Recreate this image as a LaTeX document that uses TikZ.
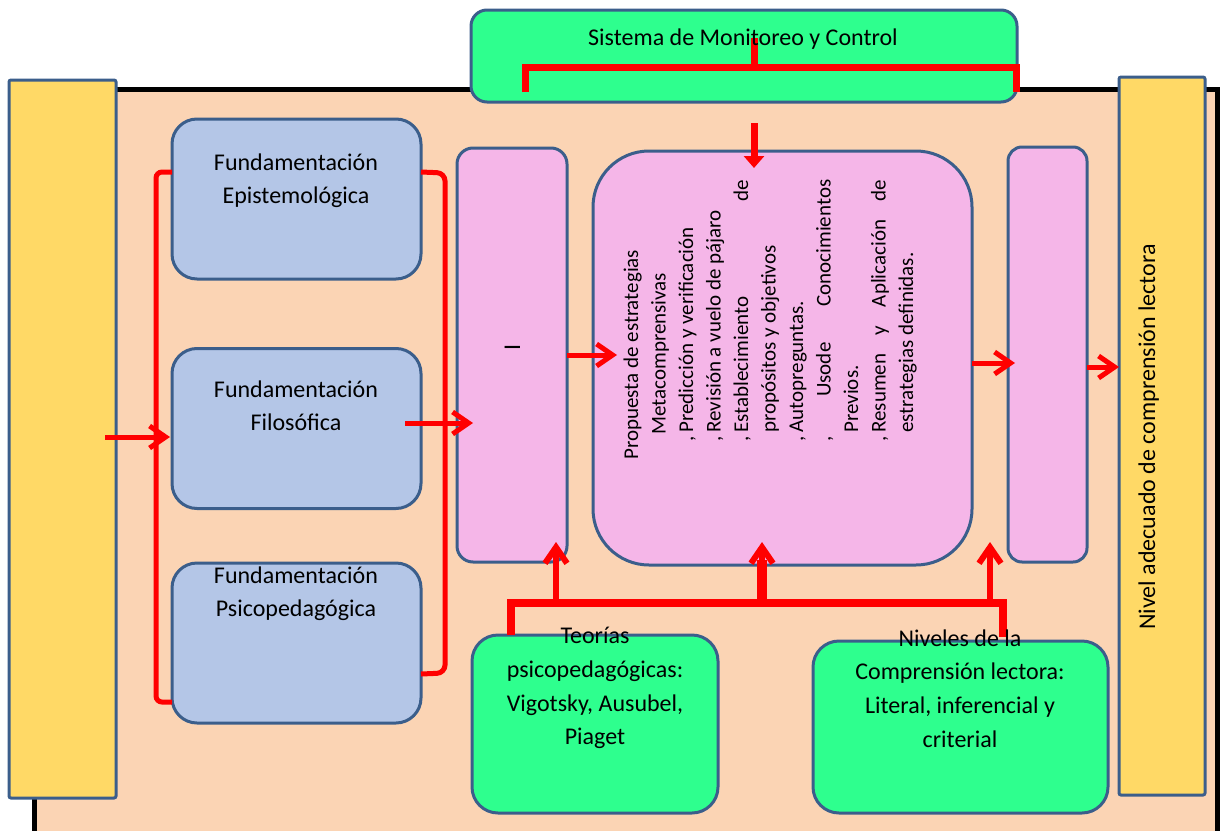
\documentclass[tikz,border=0pt]{standalone}
\usepackage{fontspec}
\setmainfont{Carlito}
\usetikzlibrary{arrows.meta,calc}
\definecolor{peach}{HTML}{FBD4B4}
\definecolor{yelc}{HTML}{FFD966}
\definecolor{bluc}{HTML}{B4C6E7}
\definecolor{pnkc}{HTML}{F5B6E8}
\definecolor{grnc}{HTML}{2EFF8E}
\definecolor{bord}{HTML}{3B5E8B}
\tikzset{
  bx/.style={draw=bord, line width=1.5pt, inner sep=0pt, outer sep=0pt},
  yelbox/.style={bx, fill=yelc, rounded corners=1pt},
  blubox/.style={bx, fill=bluc, rounded corners=12.5pt, minimum width=124.5pt, minimum height=80pt},
  pnkbox/.style={bx, fill=pnkc},
  grnbox/.style={bx, fill=grnc, rounded corners=13pt},
  rl/.style={draw=red, line width=2.5pt},
  arr/.style={rl, -{Straight Barb[length=8pt,width=11pt]}},
  lbl/.style={anchor=base, inner sep=0pt, font=\fontsize{12}{17}\selectfont},
  ctx/.style={rotate=90, anchor=base west, inner sep=0pt, font=\fontsize{10.5}{13}\selectfont},
}
\begin{document}
\begin{tikzpicture}[x=0.5pt,y=-0.5pt]
\useasboundingbox (0,0) rectangle (1220,830);
% background
\node[fill=peach, draw=black, line width=2.5pt, inner sep=0pt, minimum width=591.5pt, minimum height=380.5pt] (bg) at (625.5,469.5) {};
% boxes
\node[yelbox, minimum width=53.5pt, minimum height=359pt] (lyel) at (62.5,439) {};
\node[yelbox, minimum width=43pt, minimum height=359pt] (ryel) at (1162,436) {};
\node[bx, fill=grnc, rounded corners=8pt, minimum width=273pt, minimum height=46pt] (sys) at (744,56) {};
\node[blubox] (epi) at (296.5,199) {};
\node[blubox] (fil) at (296.5,428.5) {};
\node[blubox] (psi) at (296.5,643) {};
\node[pnkbox, rounded corners=8pt, minimum width=55pt, minimum height=207pt] (pl) at (512,355) {};
\node[pnkbox, rounded corners=28pt, minimum width=189.5pt, minimum height=207pt] (pc) at (782.5,358) {};
\node[pnkbox, rounded corners=7pt, minimum width=39.5pt, minimum height=207.5pt] (pr) at (1047.5,354.5) {};
\node[grnbox, minimum width=123pt, minimum height=89pt] (g1) at (595,724) {};
\node[grnbox, minimum width=147.5pt, minimum height=86pt] (g2) at (960.5,727) {};
% brackets
\draw[rl, rounded corners=3pt] ($(epi.west)+(0,-27)$) -- ($(epi.west)+(-16,-27)$) -- ($(psi.west)+(-16,59)$) -- ($(psi.west)+(0,59)$);
\draw[rl, rounded corners=4pt] ($(epi.east)+(0,-27)$) -- ($(epi.east)+(24,-26)$) -- ($(psi.east)+(24,30)$) -- ($(psi.east)+(0,31)$);
% horizontal arrows
\draw[arr] ($(lyel.east)+(-11,-2)$) -- ($(lyel.east -| fil.west)+(-2,-2)$);
\draw[arr] ($(fil.east)+(-16,-5.5)$) -- ($(fil.east -| pl.west)+(16,-5.5)$);
\draw[arr] (pl.east) -- ($(pl.east -| pc.west)+(24,0)$);
\draw[arr] ($(pc.east)+(0,5)$) -- ($(pc.east -| pr.west)+(7,5)$);
\draw[arr] ($(pr.east)+(0,12.5)$) -- ($(pr.east -| ryel.west)+(0,12.5)$);
% monitoring bracket and arrow
\draw[rl, line width=3.5pt] ($(sys.south west)+(54,-10)$) -- ($(sys.west)+(54,11)$) -- ($(sys.east)+(-1,11)$) -- ($(sys.south east)+(-1,-10)$);
\draw[rl, line width=3.5pt] ($(sys.center)+(10,-18)$) -- ($(sys.center)+(10,11)$);
\draw[rl, line width=3.5pt, -{Triangle[length=6pt,width=10pt]}] ($(sys.south)+(10,21)$) -- ($(sys.south |- pc.north)+(10,17)$);
% bottom bus
\draw[rl, line width=4pt] ($(g1.north west)+(39,0)$) -- ($(g1.north west)+(39,-32)$) -- ($(g2.north west)+(190,-38)$) -- ($(g2.north west)+(190,-4)$);
\draw[arr, line width=3pt] ($(pl.south)+(44,41)$) -- ($(pl.south)+(44,-20)$);
\draw[rl, line width=5pt] ($(pc.south)+(-20.5,38)$) -- ($(pc.south)+(-20.5,-5)$);
\draw[arr, line width=3pt] ($(pc.south)+(-20.5,38)$) -- ($(pc.south)+(-20.5,-23)$);
\draw[arr, line width=3pt] ($(pc.south east)+(18,38)$) -- ($(pc.south east)+(18,-23)$);
% texts
\node[lbl] (t0) at (743,46) {Sistema de Monitoreo y Control};
\node[lbl] (t1) at (296,170) {Fundamentación};
\node[lbl] (t2) at (296,203) {Epistemológica};
\node[lbl] (t3) at (296,397) {Fundamentación};
\node[lbl] (t4) at (296,430) {Filosófica};
\node[lbl] (t5) at (296,583) {Fundamentación};
\node[lbl] (t6) at (296,616) {Psicopedagógica};
\node[lbl] (t7) at (595,643) {Teorías};
\node[lbl] (t8) at (595,677) {psicopedagógicas:};
\node[lbl] (t9) at (595,711) {Vigotsky, Ausubel,};
\node[lbl] (t10) at (595,744) {Piaget};
\node[lbl] (t11) at (960,646) {Niveles de la};
\node[lbl] (t12) at (960,679) {Comprensión lectora:};
\node[lbl] (t13) at (960,713) {Literal, inferencial y};
\node[lbl] (t14) at (960,747) {criterial};
\node[lbl, rotate=90] (t15) at (1155,437) {Nivel adecuado de comprensión lectora};
\node[lbl, rotate=90] (tI) at (520,347) {I};
% central text
\node[ctx] (c1) at (638,460) {Propuesta de estrategias};
\node[ctx] (c2) at (665.5,435) {Metacomprensivas};
\node[ctx] (c3) at (693,433) {\llap{,\kern2pt}Predicción y verificación};
\node[ctx] (c4) at (720.5,433) {\llap{,\kern2pt}Revisión a vuelo de pájaro};
\node[ctx] (c5) at (748,433) {\hbox to 126.5pt{\llap{,\kern2pt}Establecimiento\hfill de}};
\node[ctx] (c6) at (775.5,433) {propósitos y objetivos};
\node[ctx] (c7) at (803,433) {\llap{,\kern2pt}Autopreguntas.};
\node[ctx] (c8) at (830.5,433) {\hbox to 126.5pt{\llap{,\kern2pt}\hfill Usode\hfill Conocimientos}};
\node[ctx] (c9) at (858,433) {Previos.};
\node[ctx] (c10) at (885.5,433) {\hbox to 126.5pt{\llap{,\kern2pt}Resumen\hfill y\hfill Aplicación\hfill de}};
\node[ctx] (c11) at (913,433) {estrategias definidas.};
\end{tikzpicture}
\end{document}
